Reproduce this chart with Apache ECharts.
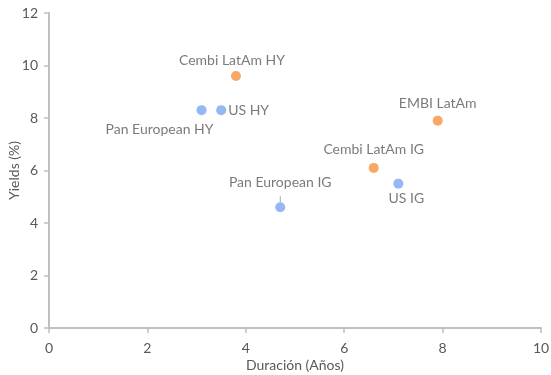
<!DOCTYPE html>
<html>
<head>
<meta charset="utf-8">
<script src="https://cdn.jsdelivr.net/npm/echarts@6/dist/echarts.min.js"></script>
<style>
  html, body { margin: 0; padding: 0; background: #ffffff; }
  #chart { width: 551px; height: 375px; }
</style>
</head>
<body>
<div id="chart"></div>
<script>
// datos
var names = ['Pan European HY', 'US HY', 'Pan European IG', 'US IG', 'Cembi LatAm HY', 'EMBI LatAm', 'Cembi LatAm IG'];
var duration = [3.1, 3.5, 4.7, 7.1, 3.8, 7.9, 6.6];
var yields = [8.3, 8.3, 4.6, 5.5, 9.6, 7.9, 6.1];
var region = ['dm', 'dm', 'dm', 'dm', 'latam', 'latam', 'latam'];
var xTicks = [0, 2, 4, 6, 8, 10];
var yTicks = [0, 2, 4, 6, 8, 10, 12];

var textColor = '#595959';
var font = 'Lato';

// donde va cada etiqueta
var labelCfg = {
  'Pan European HY': { position: 'bottom', distance: 7, offset: [-42, 0] },
  'US HY': { position: 'right', distance: 2 },
  'Pan European IG': { position: 'top', distance: 13, line: true },
  'US IG': { position: 'bottom', distance: 3, offset: [8, 0] },
  'Cembi LatAm HY': { position: 'top', distance: 4, offset: [-4, 0] },
  'EMBI LatAm': { position: 'top', distance: 5 },
  'Cembi LatAm IG': { position: 'top', distance: 6 }
};

function buildData(key) {
  var out = [];
  for (var i = 0; i < names.length; i++) {
    if (region[i] != key) continue;
    var lc = labelCfg[names[i]];
    out.push({
      name: names[i],
      value: [duration[i], yields[i]],
      label: {
        show: true,
        position: lc.position,
        distance: lc.distance,
        offset: lc.offset || [0, 0]
      },
      labelLine: {
        show: !!lc.line,
        lineStyle: { color: '#a6a6a6', width: 1 }
      }
    });
  }
  return out;
}

var myChart = echarts.init(document.getElementById('chart'));
var option = {
  backgroundColor: '#ffffff',
  animation: false,
  grid: {
    left: 49,
    right: 10,
    top: 13,
    bottom: 47,
    containLabel: false,
    outerBoundsMode: 'none'
  },
  xAxis: {
    type: 'value',
    min: 0,
    max: 10,
    interval: 2,
    name: 'Duración (Años)',
    nameLocation: 'middle',
    nameGap: 30,
    nameMoveOverlap: false,
    nameTextStyle: { color: textColor, fontFamily: font, fontSize: 14 },
    axisLine: { show: true, lineStyle: { color: '#bfbfbf', width: 2 } },
    axisTick: { show: true, length: 5, lineStyle: { color: '#bfbfbf', width: 1.5 } },
    splitLine: { show: false },
    axisLabel: {
      color: textColor, fontFamily: font, fontSize: 14, margin: 13,
      formatter: function (v) { return xTicks.indexOf(v) >= 0 ? String(v) : ''; }
    }
  },
  yAxis: {
    type: 'value',
    min: 0,
    max: 12,
    interval: 2,
    name: 'Yields (%)',
    nameLocation: 'middle',
    nameGap: 28,
    nameMoveOverlap: false,
    nameTextStyle: { color: textColor, fontFamily: font, fontSize: 14 },
    axisLine: { show: true, lineStyle: { color: '#bfbfbf', width: 2 } },
    axisTick: { show: true, length: 5, lineStyle: { color: '#bfbfbf', width: 1.5 } },
    splitLine: { show: false },
    axisLabel: {
      color: textColor, fontFamily: font, fontSize: 14, margin: 11,
      formatter: function (v) { return yTicks.indexOf(v) >= 0 ? String(v) : ''; }
    }
  },
  series: [
    {
      name: 'Desarrollados',
      type: 'scatter',
      symbolSize: 10,
      itemStyle: { color: '#7aa6f0' },
      label: {
        formatter: '{b}',
        color: textColor,
        fontFamily: font,
        fontSize: 14
      },
      data: buildData('dm')
    },
    {
      name: 'LatAm',
      type: 'scatter',
      symbolSize: 10,
      itemStyle: { color: '#f5923e' },
      label: {
        formatter: '{b}',
        color: textColor,
        fontFamily: font,
        fontSize: 14
      },
      data: buildData('latam')
    }
  ]
};
myChart.setOption(option);
</script>
</body>
</html>
